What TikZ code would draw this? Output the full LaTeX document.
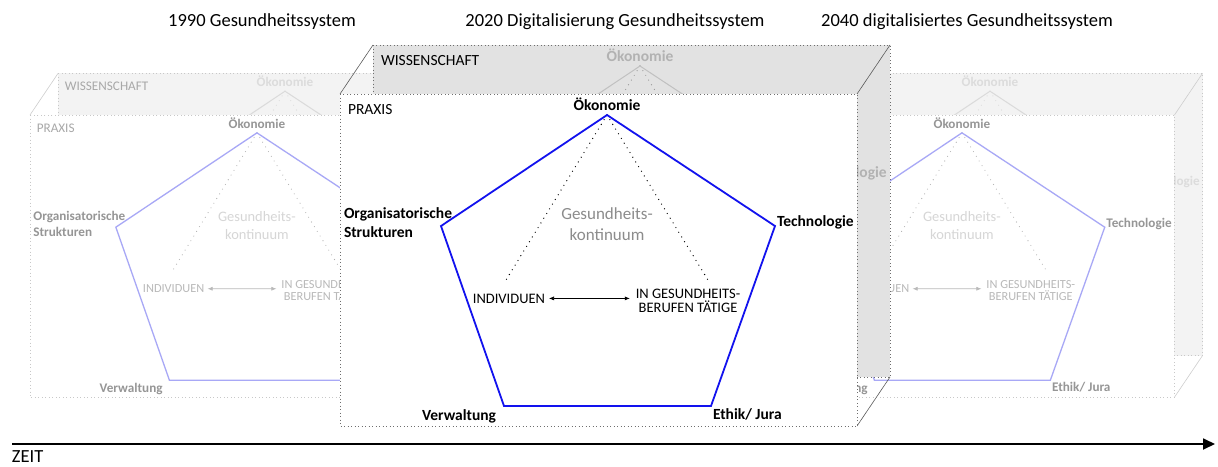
\documentclass[tikz,border=0pt]{standalone}
\usepackage{fontspec}
\setmainfont{Carlito}
\usetikzlibrary{arrows.meta}

% colours
\definecolor{pentblue}{RGB}{18,18,238}
\definecolor{midframe}{RGB}{110,110,110}
\definecolor{middiag}{RGB}{90,90,90}
\definecolor{midbackfill}{RGB}{226,226,226}
\definecolor{midbacktext}{RGB}{178,178,178}
\definecolor{midbackline}{RGB}{192,192,192}
\definecolor{midbackdots}{RGB}{150,150,150}
\definecolor{kontgray}{RGB}{140,140,140}
\definecolor{sidepenta}{RGB}{168,168,246}
\definecolor{sidelabel}{RGB}{150,150,150}
\definecolor{sidename}{RGB}{168,168,168}
\definecolor{sidekont}{RGB}{214,214,214}
\definecolor{sideactor}{RGB}{185,185,185}
\definecolor{sidedots}{RGB}{175,175,175}
\definecolor{sideframe}{RGB}{200,200,200}
\definecolor{sidebackfill}{RGB}{243,243,243}
\definecolor{sidebacktext}{RGB}{220,220,220}
\definecolor{sidebackline}{RGB}{218,218,218}
\definecolor{sidediag}{RGB}{205,205,205}

\newcommand{\vfont}{\bfseries\fontsize{15.5}{18}\selectfont}
\newcommand{\nfont}{\fontsize{15.5}{18}\selectfont}
\newcommand{\kfont}{\fontsize{17}{20}\selectfont}
\newcommand{\afont}{\fontsize{14.5}{16}\selectfont}
\newcommand{\tfont}{\fontsize{18.5}{22}\selectfont}

\tikzset{
  lbl/.style={inner sep=0pt, outer sep=0pt},
  arrowtips/.style={{Latex[length=5pt,width=4pt]}-{Latex[length=5pt,width=4pt]}},
  % active (2020) face
  midface/.style={
    penta/.style={draw=pentblue, line width=1.8pt},
    pdots/.style={draw=black, line width=1.3pt, dash pattern=on 0pt off 5.5pt, line cap=round},
    vlabel/.style={lbl, font=\vfont, text=black},
    facename/.style={lbl, font=\nfont, text=black},
    kont/.style={lbl, font=\kfont, text=kontgray},
    actor/.style={lbl, font=\afont, text=black},
    actarrow/.style={draw=black, line width=0.6pt, arrowtips}
  },
  midback/.style={
    penta/.style={draw=midbackline, line width=1pt},
    pdots/.style={draw=midbackdots, line width=1.2pt, dash pattern=on 0pt off 5.5pt, line cap=round},
    vlabel/.style={lbl, font=\vfont, text=midbacktext},
    facename/.style={lbl, font=\nfont, text=black}
  },
  % faded (1990 / 2040) faces
  sideface/.style={
    penta/.style={draw=sidepenta, line width=1.3pt},
    pdots/.style={draw=sidedots, line width=1.1pt, dash pattern=on 0pt off 5.5pt, line cap=round},
    vlabel/.style={lbl, font=\vfont, text=sidelabel},
    facename/.style={lbl, font=\nfont, text=sidename},
    kont/.style={lbl, font=\kfont, text=sidekont},
    actor/.style={lbl, font=\afont, text=sideactor},
    actarrow/.style={draw=sideactor, line width=0.6pt, arrowtips}
  },
  sideback/.style={
    penta/.style={draw=sidebackline, line width=1pt},
    pdots/.style={draw=sidebackline, line width=1.1pt, dash pattern=on 0pt off 5.5pt, line cap=round},
    vlabel/.style={lbl, font=\vfont, text=sidebacktext},
    facename/.style={lbl, font=\nfont, text=sidename}
  },
  midbox/.style={
    frontset/.style=midface, backset/.style=midback,
    backfill/.style={fill=midbackfill},
    backframe/.style={draw=midframe, line width=0.9pt, dash pattern=on 1pt off 2.5pt},
    frontframe/.style={draw=midframe, line width=0.9pt, dash pattern=on 1pt off 2.5pt},
    diag/.style={draw=middiag, line width=0.6pt}
  },
  sidebox/.style={
    frontset/.style=sideface, backset/.style=sideback,
    backfill/.style={fill=sidebackfill},
    backframe/.style={draw=sideframe, line width=0.9pt, dash pattern=on 1pt off 2.5pt},
    frontframe/.style={draw=sideframe, line width=0.9pt, dash pattern=on 1pt off 2.5pt},
    diag/.style={draw=sidediag, line width=0.6pt}
  },
  title/.style={lbl, font=\tfont, text=black}
}

% which labels a face prints (labels covered by a nearer box are left out)
\newif\ifbackface
\newif\ifnamevisible
\newif\iforgvisible
\newif\iftechvisible
\newif\ifethvisible

% one face of the model: pentagon of the five fields, health continuum inside
\newcommand{\facecontent}[1]{%
  \coordinate (apex) at (267,21);
  \coordinate (tech) at (435,132);
  \coordinate (eth) at (371,312);
  \coordinate (verw) at (164,312);
  \coordinate (org) at (101,132);
  \coordinate (dotsl) at (166,186);
  \coordinate (dotsr) at (368,186);
  \draw[pdots] (apex) -- (dotsl);
  \draw[pdots] (apex) -- (dotsr);
  \draw[penta] (apex) -- (tech) -- (eth) -- (verw) -- (org) -- cycle;
  \ifnamevisible
    \node[facename, anchor=base west] (name) at (8,20) {#1};
  \fi
  \node[vlabel, anchor=base] (oek) at (267,16) {Ökonomie};
  \iftechvisible
    \node[vlabel, anchor=base west] (techl) at (437,132) {Technologie};
  \fi
  \ifbackface\else
    \iforgvisible
      \node[vlabel, anchor=base west] (org1) at (4,124) {Organisatorische};
      \node[vlabel, anchor=base west] (org2) at (4,143) {Strukturen};
    \fi
    \node[vlabel, anchor=base east] (verwl) at (156,326) {Verwaltung};
    \ifethvisible
      \node[vlabel, anchor=base west] (ethl) at (373,325) {Ethik/ Jura};
    \fi
    \node[kont, anchor=base] (kont1) at (267,125) {Gesundheits-};
    \node[kont, anchor=base] (kont2) at (267,146) {kontinuum};
    \node[actor, anchor=base east] (ind) at (205,209) {INDIVIDUEN};
    \node[actor, anchor=base] (ges1) at (348,204) {IN GESUNDHEITS-};
    \node[actor, anchor=base] (ges2) at (348,218) {BERUFEN TÄTIGE};
    \coordinate (arrowend) at (ind.east -| ges1.west);
    \draw[actarrow] ([xshift=4pt]ind.east) -- ([xshift=-6pt]arrowend);
  \fi
}

% a box: WISSENSCHAFT face behind, PRAXIS face in front
% #1 name prefix; #2 back name, #3 back Technologie, #4 front name,
% #5 Organisatorische, #6 front Technologie, #7 Ethik (true/false)
\newcommand{\healthbox}[7]{%
  \fill[backfill] (33,-49) rectangle (550,283);
  \begin{scope}[shift={(33,-49)}, backset, name prefix=#1-back-]
    \clip (0,0) rectangle (517,332);
    \backfacetrue
    \csname namevisible#2\endcsname
    \csname techvisible#3\endcsname
    \facecontent{WISSENSCHAFT}
  \end{scope}
  \draw[backframe] (33,-49) rectangle (550,283);
  \draw[diag] (0,0) -- (33,-49);
  \draw[diag] (517,0) -- (550,-49);
  \draw[diag] (517,332) -- (550,283);
  \fill[white] (0,0) rectangle (517,332);
  \draw[frontframe] (0,0) rectangle (517,332);
  \begin{scope}[frontset, name prefix=#1-front-]
    \backfacefalse
    \csname namevisible#4\endcsname
    \csname orgvisible#5\endcsname
    \csname techvisible#6\endcsname
    \csname ethvisible#7\endcsname
    \facecontent{PRAXIS}
  \end{scope}
}

\begin{document}
\begin{tikzpicture}[x=1pt, y=-1pt]
  \useasboundingbox (0,0) rectangle (1218,466);

  % 2040
  \begin{scope}[shift={(735,115)}, scale=0.85, transform shape, sidebox]
    \healthbox{R}{false}{true}{false}{false}{true}{true}
  \end{scope}
  % 1990
  \begin{scope}[shift={(30,115)}, scale=0.85, transform shape, sidebox]
    \healthbox{L}{true}{false}{true}{true}{false}{false}
  \end{scope}
  % 2020
  \begin{scope}[shift={(340,94)}, midbox]
    \healthbox{M}{true}{true}{true}{true}{true}{true}
  \end{scope}

  % titles
  \node[title] (t1990) at (262,22) {1990 Gesundheitssystem};
  \node[title] (t2020) at (615,22) {2020 Digitalisierung Gesundheitssystem};
  \node[title] (t2040) at (967,22) {2040 digitalisiertes Gesundheitssystem};

  % time axis
  \coordinate (zstart) at (12,444);
  \coordinate (zend) at (1215,444);
  \draw[line width=1.8pt, -{Triangle[length=12pt,width=11pt]}] (zstart) -- (zend);
  \node[lbl, font=\tfont, anchor=base west] (zeit) at (12,462.5) {ZEIT};
\end{tikzpicture}
\end{document}
